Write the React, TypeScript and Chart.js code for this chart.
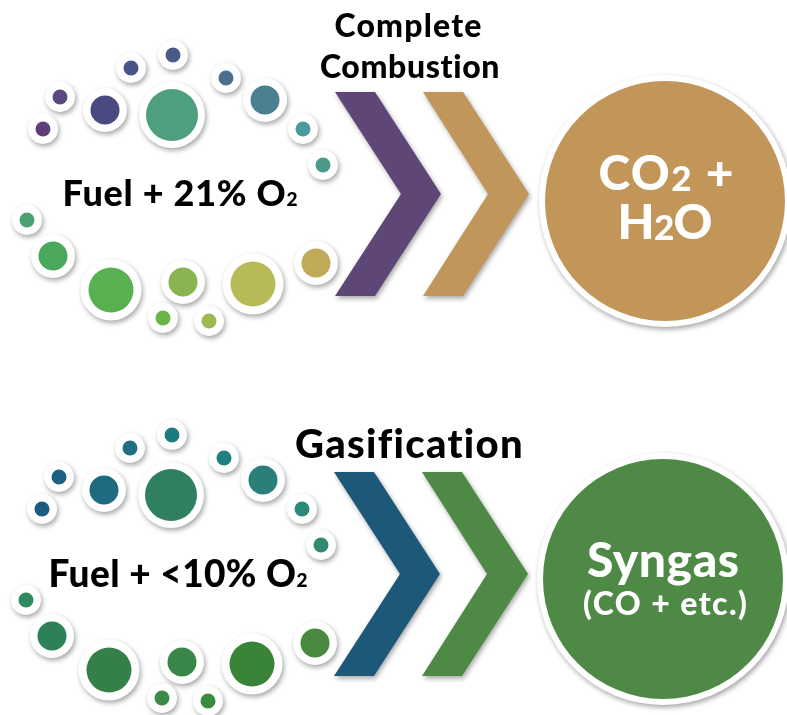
import React, { useEffect, useRef } from "react";
import { Chart, registerables } from "chart.js";

Chart.register(...registerables);

const WIDTH = 787;
const HEIGHT = 715;

// Small bubble ring: size class per bubble (s = small, m = medium, l = large, x = extra large)
const bubbleSizeClass = ["s", "s", "m", "s", "s", "x", "s", "m", "s", "s", "s", "m", "l", "m", "s", "s", "l", "m"];
const innerRadius: Record<string, number> = { s: 7.5, m: 14.5, l: 22.5, x: 26 };
const outerRadius: Record<string, number> = { s: 15, m: 22, l: 30.5, x: 33 };

const topBubbleX = [43, 60, 105, 131, 173, 172, 226, 265, 303, 323, 27, 53, 111, 183, 163, 209, 253, 316];
const topBubbleY = [129, 97, 110, 68, 55, 115, 78, 100, 129, 165, 220, 256, 290, 282, 318, 321, 284, 263];
const topBubbleColors = [
  "#5e3f78", "#5b4880", "#4b4a80", "#4a5488", "#4a5a88", "#4e9f7e",
  "#4a7090", "#4a8090", "#4a9aa0", "#4a9a8a", "#4aa070", "#4aa85a",
  "#58b050", "#8ab450", "#6ab448", "#a0b850", "#b8ba58", "#c0aa58",
];

const bottomBubbleX = [42, 59, 104, 130, 172, 171, 224, 263, 302, 321, 26, 52, 109, 182, 162, 208, 252, 315];
const bottomBubbleY = [509, 477, 490, 448, 435, 495, 458, 480, 509, 545, 600, 636, 670, 662, 698, 701, 664, 643];
const bottomBubbleColors = [
  "#1d5a80", "#1e6080", "#1e6a80", "#1e7080", "#1e7a80", "#2e8060",
  "#1e8080", "#2a8078", "#2e8a78", "#2e8a70", "#2e8a60", "#2e8058",
  "#358048", "#3a8648", "#3a8a48", "#3a8a40", "#3a8438", "#4a8a40",
];

// Result circles
const resultX = [665, 663];
const resultY = [201, 579];
const resultColors = ["#c29659", "#4e8a46"];
const resultInnerR = 120;
const resultOuterR = 126;

// Chevrons (vertices: top-left, top-right, tip, bottom-right, bottom-left, notch)
const chevronY = [92, 92, 194, 296, 296, 194];
const chevronYBottom = [472, 472, 574, 676, 676, 574];
const purpleChevronX = [335, 375, 441, 375, 335, 401];
const goldChevronX = [423, 463, 529, 463, 423, 488];
const blueChevronX = [334, 374, 440, 374, 334, 400];
const greenChevronX = [422, 462, 528, 462, 422, 487];
const chevronColors = ["#5e4677", "#c1965a", "#1e5878", "#4e8a46"];

// Text labels
const fontFamily = "Lato, 'Open Sans', sans-serif";
const fontWeight = 900;

type Run = { text: string; size: number; dy?: number };
type Label = { runs: Run[]; x: number; y: number; color: string; width: number };

const labels: Label[] = [
  { runs: [{ text: "Complete", size: 32 }], x: 408, y: 37, color: "#000000", width: 147 },
  { runs: [{ text: "Combustion", size: 32 }], x: 410, y: 78, color: "#000000", width: 180 },
  { runs: [{ text: "Fuel + 21% O", size: 36 }, { text: "2", size: 19 }], x: 180, y: 206, color: "#000000", width: 235 },
  { runs: [{ text: "CO", size: 48 }, { text: "2", size: 35, dy: 1 }, { text: " +", size: 48 }], x: 666, y: 190, color: "#ffffff", width: 135 },
  { runs: [{ text: "H", size: 48 }, { text: "2", size: 35, dy: 1 }, { text: "O", size: 48 }], x: 665, y: 239, color: "#ffffff", width: 95 },
  { runs: [{ text: "Gasification", size: 40 }], x: 409, y: 458, color: "#000000", width: 228 },
  { runs: [{ text: "Fuel + <10% O", size: 37 }, { text: "2", size: 19 }], x: 178, y: 587, color: "#000000", width: 259 },
  { runs: [{ text: "Syngas", size: 48 }], x: 663, y: 577, color: "#ffffff", width: 152 },
  { runs: [{ text: "(CO + etc.)", size: 32 }], x: 665, y: 615, color: "#ffffff", width: 164 },
];

function pts(xs: number[], ys: number[]) {
  return xs.map((x, i) => ({ x, y: ys[i] }));
}
function bubbles(xs: number[], ys: number[], radii: number[]) {
  return xs.map((x, i) => ({ x, y: ys[i], r: radii[i] }));
}

export default function App() {
  const canvasRef = useRef<HTMLCanvasElement | null>(null);

  useEffect(() => {
    const canvas = canvasRef.current;
    if (!canvas) return;

    const inner = bubbleSizeClass.map((c) => innerRadius[c]);
    const outer = bubbleSizeClass.map((c) => outerRadius[c]);

    const shadowPlugin = {
      id: "shadowAndShapes",
      beforeDatasetDraw(chart: any, args: any) {
        const ds = chart.data.datasets[args.index];
        const ctx = chart.ctx;
        ctx.save();
        if (ds._shadow) {
          ctx.shadowColor = "rgba(0,0,0,0.35)";
          ctx.shadowBlur = 5;
          ctx.shadowOffsetX = 1.5;
          ctx.shadowOffsetY = 2.5;
        }
        if (ds._polygon) {
          const meta = chart.getDatasetMeta(args.index);
          ctx.beginPath();
          meta.data.forEach((p: any, i: number) => {
            if (i === 0) ctx.moveTo(p.x, p.y);
            else ctx.lineTo(p.x, p.y);
          });
          ctx.closePath();
          ctx.fillStyle = ds._fillColor;
          ctx.fill();
        }
      },
      afterDatasetDraw(chart: any) {
        chart.ctx.restore();
      },
      afterDraw(chart: any) {
        const ctx = chart.ctx;
        const xs = chart.scales.x;
        const ys = chart.scales.y;
        ctx.save();
        ctx.textBaseline = "alphabetic";
        ctx.textAlign = "left";
        labels.forEach((lab) => {
          (ctx as any).letterSpacing = "0px";
          let natural = 0;
          let chars = 0;
          const widths = lab.runs.map((r) => {
            ctx.font = `${fontWeight} ${r.size}px ${fontFamily}`;
            const w = ctx.measureText(r.text).width;
            natural += w;
            chars += r.text.length;
            return w;
          });
          const ls = chars > 1 ? (lab.width - natural) / (chars - 1) : 0;
          const total = natural + ls * (chars - 1);
          let px = xs.getPixelForValue(lab.x) - total / 2;
          const py = ys.getPixelForValue(lab.y);
          ctx.fillStyle = lab.color;
          (ctx as any).letterSpacing = `${ls}px`;
          lab.runs.forEach((r, i) => {
            ctx.font = `${fontWeight} ${r.size}px ${fontFamily}`;
            ctx.fillText(r.text, px, py + (r.dy || 0));
            px += widths[i] + ls * r.text.length;
          });
        });
        ctx.restore();
      },
    };

    const polygon = (xs: number[], ys: number[], color: string) => ({
      type: "line",
      data: pts(xs, ys),
      showLine: false,
      pointRadius: 0,
      pointHoverRadius: 0,
      borderWidth: 0,
      fill: false,
      clip: false,
      order: 5,
      _polygon: true,
      _shadow: true,
      _fillColor: color,
    });

    const ring = (xs: number[], ys: number[], radii: number[]) => ({
      data: bubbles(xs, ys, radii),
      backgroundColor: "#ffffff",
      borderWidth: 0,
      borderColor: "transparent",
      clip: false,
      order: 3,
      _shadow: true,
    });
    const dot = (xs: number[], ys: number[], radii: number[], colors: string[]) => ({
      data: bubbles(xs, ys, radii),
      backgroundColor: colors,
      borderWidth: 0,
      borderColor: "transparent",
      clip: false,
      order: 2,
    });

    const chart = new Chart(canvas, {
      type: "bubble",
      data: {
        datasets: [
          polygon(purpleChevronX, chevronY, chevronColors[0]),
          polygon(goldChevronX, chevronY, chevronColors[1]),
          polygon(blueChevronX, chevronYBottom, chevronColors[2]),
          polygon(greenChevronX, chevronYBottom, chevronColors[3]),
          ring(topBubbleX, topBubbleY, outer),
          dot(topBubbleX, topBubbleY, inner, topBubbleColors),
          ring(bottomBubbleX, bottomBubbleY, outer),
          dot(bottomBubbleX, bottomBubbleY, inner, bottomBubbleColors),
          ring(resultX, resultY, [resultOuterR, resultOuterR]),
          dot(resultX, resultY, [resultInnerR, resultInnerR], resultColors),
        ] as any,
      },
      options: {
        animation: false,
        responsive: false,
        events: [],
        layout: { padding: 0, autoPadding: false },
        plugins: { legend: { display: false }, tooltip: { enabled: false } },
        scales: {
          x: { type: "linear", min: 0, max: WIDTH, display: false },
          y: { type: "linear", min: 0, max: HEIGHT, reverse: true, display: false },
        },
      },
      plugins: [shadowPlugin],
    } as any);

    return () => chart.destroy();
  }, []);

  return (
    <div style={{ position: "absolute", left: 0, top: 0, width: WIDTH, height: HEIGHT, background: "#ffffff" }}>
      <canvas ref={canvasRef} width={WIDTH} height={HEIGHT} style={{ display: "block" }} />
    </div>
  );
}
